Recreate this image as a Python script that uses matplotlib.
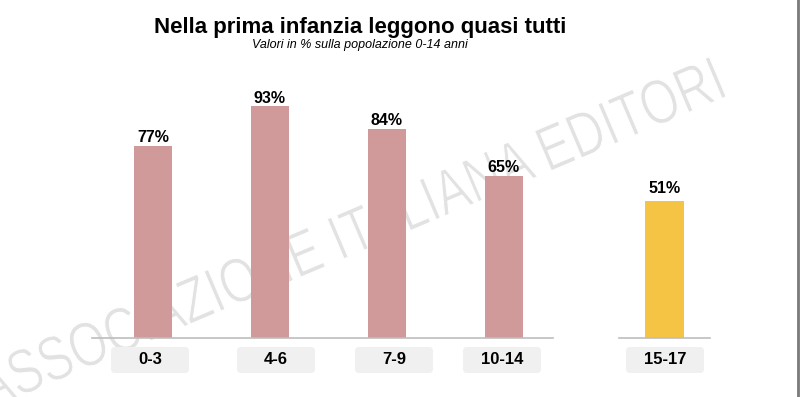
import matplotlib
matplotlib.use("Agg")
import matplotlib.pyplot as plt
from matplotlib.patches import FancyBboxPatch, PathPatch
from matplotlib.lines import Line2D
from matplotlib.textpath import TextPath
from matplotlib.font_manager import FontProperties
from matplotlib.transforms import Affine2D

plt.rcParams["font.family"] = ["Liberation Sans", "DejaVu Sans"]

# data
age_groups = ["0-3", "4-6", "7-9", "10-14"]
pct_values = [77, 93, 84, 65]
teen_group = ["15-17"]
teen_values = [51]

TITLE = "Nella prima infanzia leggono quasi tutti"
SUBTITLE = "Valori in % sulla popolazione 0-14 anni"
WATERMARK = "ASSOCIAZIONE ITALIANA EDITORI"

PINK = "#CF9A99"
YELLOW = "#F5C445"
AXIS_GRAY = "#BDBDBD"
BOX_GRAY = "#F0F0F0"

W, H = 800, 397
DPI = 100
fig = plt.figure(figsize=(W / DPI, H / DPI), dpi=DPI)

def px(x0, y0, w, h):
    # pixel box (top-left origin) -> figure fraction rect
    return [x0 / W, 1 - (y0 + h) / H, w / W, h / H]

base = 338
ax1 = fig.add_axes(px(92, base - 249, 461, 249))
ax2 = fig.add_axes(px(619, base - 269, 91, 269))

def style(ax):
    ax.set_ylim(0, 100)
    for s in ["top", "right", "left"]:
        ax.spines[s].set_visible(False)
    ax.spines["bottom"].set_color(AXIS_GRAY)
    ax.spines["bottom"].set_linewidth(1.2)
    ax.set_yticks([])
    ax.set_xticks([])
    ax.patch.set_alpha(0)

xs = list(range(len(age_groups)))
ax1.bar(xs, pct_values, width=0.33, color=PINK)
ax1.set_xlim(-0.52, 3.42)
style(ax1)
for x, v in zip(xs, pct_values):
    ax1.annotate("%d%%" % v, (x, v), xytext=(0, 6), textcoords="offset points",
                 ha="center", va="center", fontsize=11.5, fontweight="bold")

ax2.bar([0], teen_values, width=0.33, color=YELLOW)
ax2.set_xlim(-0.39, 0.39)
style(ax2)
for v in teen_values:
    ax2.annotate("%d%%" % v, (0, v), xytext=(0, 9), textcoords="offset points",
                 ha="center", va="center", fontsize=11.5, fontweight="bold")

# watermark, behind the bars (condensed, thin, rotated)
tp = TextPath((0, 0), WATERMARK, size=63, prop=FontProperties(family="Liberation Sans"))
wm_tr = Affine2D().scale(0.78, 1).rotate_deg(23).translate(-12, -13).scale(1 / DPI)
wm = PathPatch(tp, transform=wm_tr + fig.dpi_scale_trans, facecolor="#E2E2E2",
               edgecolor="white", linewidth=0.8, zorder=-1)
fig.patches.append(wm)

# category label boxes (centres in px)
label_cx = [150, 276, 394, 502, 665]
for cx, lab in zip(label_cx, age_groups + teen_group):
    bx = FancyBboxPatch(((cx - 39) / DPI, (H - 373) / DPI), 0.78, 0.26,
                        boxstyle="round,pad=0,rounding_size=0.04",
                        transform=fig.dpi_scale_trans, facecolor=BOX_GRAY,
                        edgecolor="none", zorder=2)
    fig.patches.append(bx)
    fig.text(cx / W, 1 - 360 / H, lab, ha="center", va="center",
             fontsize=12, fontweight="bold", zorder=3)

fig.text(360 / W, 1 - 27 / H, TITLE, ha="center", va="center",
         fontsize=16, fontweight="bold")
fig.text(360 / W, 1 - 45 / H, SUBTITLE, ha="center", va="center",
         fontsize=9, style="italic")

fig.lines.append(Line2D([798 / W, 798 / W], [0, 1], transform=fig.transFigure,
                        color="#7A7A7A", linewidth=2))

fig.savefig("out.png", dpi=DPI)
